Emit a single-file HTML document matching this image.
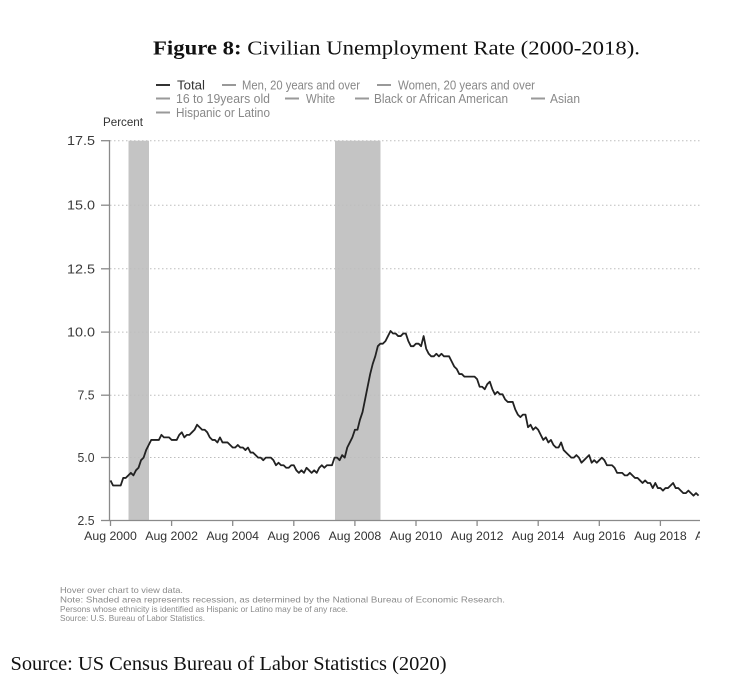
<!DOCTYPE html>
<html><head><meta charset="utf-8"><style>
html,body{margin:0;padding:0;background:#fff;}
svg{display:block;}
</style></head><body>
<svg width="730" height="693" viewBox="0 0 730 693" xmlns="http://www.w3.org/2000/svg">
<rect width="730" height="693" fill="#fff"/>
<!-- Title -->
<text x="153" y="54.5" font-family="Liberation Serif, serif" font-size="20" fill="#111" textLength="487" lengthAdjust="spacingAndGlyphs"><tspan font-weight="bold">Figure 8:</tspan> Civilian Unemployment Rate (2000-2018).</text>

<!-- Legend -->
<g font-family="Liberation Sans, sans-serif" font-size="12.5" fill="#888" lengthAdjust="spacingAndGlyphs">
  <line x1="156" y1="85" x2="170" y2="85" stroke="#333" stroke-width="2"/>
  <text x="177" y="89.5" fill="#333" textLength="28" lengthAdjust="spacingAndGlyphs">Total</text>
  <line x1="222" y1="85" x2="236" y2="85" stroke="#999" stroke-width="2"/>
  <text x="242" y="89.5" textLength="118" lengthAdjust="spacingAndGlyphs">Men, 20 years and over</text>
  <line x1="377" y1="85" x2="391" y2="85" stroke="#999" stroke-width="2"/>
  <text x="398" y="89.5" textLength="137" lengthAdjust="spacingAndGlyphs">Women, 20 years and over</text>

  <line x1="156" y1="98.5" x2="170" y2="98.5" stroke="#999" stroke-width="2"/>
  <text x="176" y="103" textLength="94" lengthAdjust="spacingAndGlyphs">16 to 19years old</text>
  <line x1="285" y1="98.5" x2="299" y2="98.5" stroke="#999" stroke-width="2"/>
  <text x="306" y="103" textLength="29" lengthAdjust="spacingAndGlyphs">White</text>
  <line x1="355" y1="98.5" x2="369" y2="98.5" stroke="#999" stroke-width="2"/>
  <text x="374" y="103" textLength="134" lengthAdjust="spacingAndGlyphs">Black or African American</text>
  <line x1="531" y1="98.5" x2="545" y2="98.5" stroke="#999" stroke-width="2"/>
  <text x="550" y="103" textLength="30" lengthAdjust="spacingAndGlyphs">Asian</text>

  <line x1="156" y1="112.5" x2="170" y2="112.5" stroke="#999" stroke-width="2"/>
  <text x="176" y="117" textLength="94" lengthAdjust="spacingAndGlyphs">Hispanic or Latino</text>
</g>
<text x="103" y="126" font-family="Liberation Sans, sans-serif" font-size="11.6" fill="#333" textLength="40" lengthAdjust="spacingAndGlyphs">Percent</text>

<!-- Recession bands -->
<rect x="128.5" y="140.7" width="20.5" height="380" fill="#c4c4c4"/>
<rect x="335" y="140.7" width="45.5" height="380" fill="#c4c4c4"/>

<!-- Gridlines -->
<g stroke="#bdbdbd" stroke-width="1" stroke-dasharray="1.5 2.5">
  <line x1="110" y1="140.7" x2="702" y2="140.7"/>
  <line x1="110" y1="205.2" x2="702" y2="205.2"/>
  <line x1="110" y1="268.8" x2="702" y2="268.8"/>
  <line x1="110" y1="332.1" x2="702" y2="332.1"/>
  <line x1="110" y1="395.2" x2="702" y2="395.2"/>
  <line x1="110" y1="457.5" x2="702" y2="457.5"/>
</g>

<!-- Axes -->
<g stroke="#8a8a8a" stroke-width="1.3">
  <line x1="109.5" y1="140" x2="109.5" y2="521"/>
  <line x1="109" y1="520.5" x2="700" y2="520.5"/>
  <line x1="101" y1="140.7" x2="109.5" y2="140.7"/>
  <line x1="101" y1="205.2" x2="109.5" y2="205.2"/>
  <line x1="101" y1="268.8" x2="109.5" y2="268.8"/>
  <line x1="101" y1="332.1" x2="109.5" y2="332.1"/>
  <line x1="101" y1="395.2" x2="109.5" y2="395.2"/>
  <line x1="101" y1="457.5" x2="109.5" y2="457.5"/>
  <line x1="101" y1="520.5" x2="109.5" y2="520.5"/>
  <line x1="110.5" y1="520.5" x2="110.5" y2="526"/>
  <line x1="171.6" y1="520.5" x2="171.6" y2="526"/>
  <line x1="232.7" y1="520.5" x2="232.7" y2="526"/>
  <line x1="293.8" y1="520.5" x2="293.8" y2="526"/>
  <line x1="354.9" y1="520.5" x2="354.9" y2="526"/>
  <line x1="416" y1="520.5" x2="416" y2="526"/>
  <line x1="477.1" y1="520.5" x2="477.1" y2="526"/>
  <line x1="538.2" y1="520.5" x2="538.2" y2="526"/>
  <line x1="599.3" y1="520.5" x2="599.3" y2="526"/>
  <line x1="660.4" y1="520.5" x2="660.4" y2="526"/>
</g>

<!-- Y labels -->
<g font-family="Liberation Sans, sans-serif" font-size="12.8" fill="#3a3a3a">
  <text x="67" y="145.2" textLength="28" lengthAdjust="spacingAndGlyphs">17.5</text>
  <text x="67" y="209.7" textLength="28" lengthAdjust="spacingAndGlyphs">15.0</text>
  <text x="67" y="273.3" textLength="28" lengthAdjust="spacingAndGlyphs">12.5</text>
  <text x="67" y="336.6" textLength="28" lengthAdjust="spacingAndGlyphs">10.0</text>
  <text x="77.5" y="399.7" textLength="17" lengthAdjust="spacingAndGlyphs">7.5</text>
  <text x="77.5" y="462" textLength="17" lengthAdjust="spacingAndGlyphs">5.0</text>
  <text x="77.5" y="525" textLength="17" lengthAdjust="spacingAndGlyphs">2.5</text>
</g>

<!-- X labels -->
<defs><clipPath id="xc"><rect x="0" y="520" width="700" height="30"/></clipPath></defs>
<g font-family="Liberation Sans, sans-serif" font-size="12.3" fill="#333" text-anchor="middle" clip-path="url(#xc)">
  <text x="110.5" y="540">Aug 2000</text>
  <text x="171.6" y="540">Aug 2002</text>
  <text x="232.7" y="540">Aug 2004</text>
  <text x="293.8" y="540">Aug 2006</text>
  <text x="354.9" y="540">Aug 2008</text>
  <text x="416" y="540">Aug 2010</text>
  <text x="477.1" y="540">Aug 2012</text>
  <text x="538.2" y="540">Aug 2014</text>
  <text x="599.3" y="540">Aug 2016</text>
  <text x="660.4" y="540">Aug 2018</text>
  <text x="721.5" y="540">Aug 2020</text>
</g>

<!-- Data line -->
<polyline fill="none" stroke="#222" stroke-width="1.8" stroke-linejoin="round" vector-effect="non-scaling-stroke"
 transform="matrix(2.5458 0 0 -25.33 110.5 584.3)"
 points="0,4.1 1,3.9 2,3.9 3,3.9 4,3.9
5,4.2 6,4.2 7,4.3 8,4.4 9,4.3 10,4.5 11,4.6 12,4.9 13,5.0 14,5.3 15,5.5 16,5.7
17,5.7 18,5.7 19,5.7 20,5.9 21,5.8 22,5.8 23,5.8 24,5.7 25,5.7 26,5.7 27,5.9 28,6.0
29,5.8 30,5.9 31,5.9 32,6.0 33,6.1 34,6.3 35,6.2 36,6.1 37,6.1 38,6.0 39,5.8 40,5.7
41,5.7 42,5.6 43,5.8 44,5.6 45,5.6 46,5.6 47,5.5 48,5.4 49,5.4 50,5.5 51,5.4 52,5.4
53,5.3 54,5.4 55,5.2 56,5.2 57,5.1 58,5.0 59,5.0 60,4.9 61,5.0 62,5.0 63,5.0 64,4.9
65,4.7 66,4.8 67,4.7 68,4.7 69,4.6 70,4.6 71,4.7 72,4.7 73,4.5 74,4.4 75,4.5 76,4.4
77,4.6 78,4.5 79,4.4 80,4.5 81,4.4 82,4.6 83,4.7 84,4.6 85,4.7 86,4.7 87,4.7 88,5.0
89,5.0 90,4.9 91,5.1 92,5.0 93,5.4 94,5.6 95,5.8 96,6.1 97,6.1 98,6.5 99,6.8 100,7.3
101,7.8 102,8.3 103,8.7 104,9.0 105,9.4 106,9.5 107,9.5 108,9.6 109,9.8 110,10.0 111,9.9 112,9.9
113,9.8 114,9.8 115,9.9 116,9.9 117,9.6 118,9.4 119,9.4 120,9.5 121,9.5 122,9.4 123,9.8 124,9.3
125,9.1 126,9.0 127,9.0 128,9.1 129,9.0 130,9.1 131,9.0 132,9.0 133,9.0 134,8.8 135,8.6 136,8.5
137,8.3 138,8.3 139,8.2 140,8.2 141,8.2 142,8.2 143,8.2 144,8.1 145,7.8 146,7.8 147,7.7 148,7.9
149,8.0 150,7.7 151,7.5 152,7.6 153,7.5 154,7.5 155,7.3 156,7.2 157,7.2 158,7.2 159,6.9 160,6.7
161,6.6 162,6.7 163,6.7 164,6.2 165,6.3 166,6.1 167,6.2 168,6.1 169,5.9 170,5.7 171,5.8 172,5.6
173,5.7 174,5.5 175,5.4 176,5.4 177,5.6 178,5.3 179,5.2 180,5.1 181,5.0 182,5.0 183,5.1 184,5.0
185,4.8 186,4.9 187,5.0 188,5.1 189,4.8 190,4.9 191,4.8 192,4.9 193,5.0 194,4.9 195,4.7 196,4.7
197,4.7 198,4.6 199,4.4 200,4.4 201,4.4 202,4.3 203,4.3 204,4.4 205,4.3 206,4.2 207,4.2 208,4.1
209,4.0 210,4.1 211,4.0 212,4.0 213,3.8 214,4.0 215,3.8 216,3.8 217,3.7 218,3.8 219,3.8 220,3.9
221,4.0 222,3.8 223,3.8 224,3.7 225,3.6 226,3.6 227,3.7 228,3.6 229,3.5 230,3.6 231,3.5"/>

<!-- Notes -->
<g font-family="Liberation Sans, sans-serif" font-size="8.3" fill="#8a8a8a">
  <text x="60" y="593" textLength="123" lengthAdjust="spacingAndGlyphs">Hover over chart to view data.</text>
  <text x="60" y="602.5" textLength="445" lengthAdjust="spacingAndGlyphs">Note: Shaded area represents recession, as determined by the National Bureau of Economic Research.</text>
  <text x="60" y="612" textLength="288" lengthAdjust="spacingAndGlyphs">Persons whose ethnicity is identified as Hispanic or Latino may be of any race.</text>
  <text x="60" y="621" textLength="145" lengthAdjust="spacingAndGlyphs">Source: U.S. Bureau of Labor Statistics.</text>
</g>

<!-- Source -->
<text x="10.5" y="670" font-family="Liberation Serif, serif" font-size="19.5" fill="#111" textLength="436" lengthAdjust="spacingAndGlyphs">Source: US Census Bureau of Labor Statistics (2020)</text>
</svg>
</body></html>
